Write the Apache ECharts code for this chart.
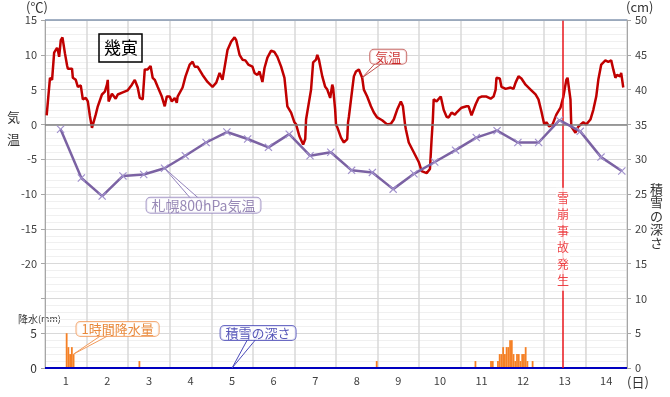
<!DOCTYPE html>
<html>
<head>
<meta charset="utf-8">
<script src="https://cdn.jsdelivr.net/npm/echarts@6/dist/echarts.min.js"></script>
<style>
html,body{margin:0;padding:0;background:#fff;}
#main{width:670px;height:397px;}
</style>
</head>
<body>
<div id="main"></div>
<script>
// 日付ラベル
var days = ['1','2','3','4','5','6','7','8','9','10','11','12','13','14'];

// 幾寅の気温（x は1日0時からの経過日数）
var tempDay = [0.04,0.12,0.17,0.22,0.29,0.31,0.34,0.38,0.42,0.48,0.53,0.55,0.65,0.67,0.74,0.79,0.86,0.91,0.98,
  1.03,1.08,1.13,1.15,1.22,1.27,1.37,1.44,1.49,1.51,1.53,1.61,1.63,1.70,1.75,1.87,1.99,
  2.09,2.16,2.23,2.28,2.35,2.40,2.47,2.54,2.59,2.64,2.71,2.81,2.83,2.88,2.93,
  3.00,3.05,3.12,3.17,3.19,3.31,3.38,3.48,3.55,3.60,3.67,3.79,3.91,
  4.03,4.12,4.20,4.27,4.39,4.48,4.56,4.60,4.68,4.75,4.82,4.89,4.99,
  5.04,5.11,5.16,5.23,5.28,5.35,5.44,5.52,5.59,5.68,5.76,5.83,5.92,
  6.00,6.04,6.12,6.21,6.26,6.28,6.40,6.45,6.52,6.55,6.59,6.67,6.74,6.79,6.86,6.91,6.93,6.98,
  7.00,7.03,7.12,7.19,7.27,7.29,7.31,7.39,7.43,7.48,7.55,7.63,7.67,7.75,7.84,7.91,7.99,
  8.11,8.23,8.32,8.39,8.47,8.56,8.61,8.66,8.68,8.75,8.87,8.99,
  9.06,9.18,9.26,9.30,9.33,9.35,9.42,9.52,9.59,9.66,9.71,9.78,9.86,9.90,
  10.02,10.14,10.19,10.26,10.36,10.43,10.50,10.62,10.72,10.74,10.79,10.84,10.86,10.94,10.98,
  11.08,11.20,11.27,11.32,11.39,11.46,11.56,11.68,11.80,11.87,11.94,
  12.01,12.06,12.13,12.21,12.30,12.40,12.47,12.54,12.57,12.64,12.66,12.76,12.83,12.95,
  13.02,13.12,13.19,13.26,13.31,13.38,13.48,13.55,13.62,13.67,13.72,13.76,13.84,13.86,13.91];
var tempVal = [1.3,6.7,6.4,10.3,11.0,10.7,9.7,12.1,12.5,10.2,8.5,8.0,8.0,6.7,6.4,5.4,5.6,3.6,3.8,
  3.3,1.2,-0.5,-0.3,1.4,2.6,4.3,4.7,5.7,6.4,3.3,4.4,4.3,3.7,4.3,4.6,4.9,
  5.7,6.4,5.3,3.8,3.6,7.9,7.9,8.4,6.7,6.4,5.4,4.0,4.1,2.6,4.0,
  4.0,3.3,3.8,3.1,4.0,5.3,6.9,8.6,9.0,8.3,8.3,7.1,6.1,
  5.4,6.0,7.4,6.4,10.7,11.9,12.5,12.1,10.0,9.3,9.2,8.6,8.3,
  7.4,7.1,7.6,6.1,8.1,9.6,10.6,10.4,9.7,8.3,6.7,2.6,1.7,
  0.3,0.0,-1.7,-2.9,-2.1,0.7,5.0,8.9,9.3,10.0,9.3,6.9,5.4,5.0,3.8,5.7,5.3,2.1,
  0.0,-0.4,-1.9,-2.6,-2.1,0.3,1.1,5.0,6.9,7.6,7.9,6.7,5.0,4.0,2.6,1.7,1.0,
  0.6,0.0,0.1,0.7,2.1,3.3,2.6,0.0,-0.7,-2.6,-4.0,-5.4,
  -6.7,-7.0,-6.4,-2.1,0.7,3.6,3.3,4.0,2.1,1.1,1.0,1.7,1.4,1.7,
  2.4,2.6,2.6,1.3,2.9,3.8,4.0,4.0,3.7,3.6,4.0,5.0,6.7,6.6,5.4,
  5.1,5.3,5.1,6.0,6.9,6.6,5.7,5.0,4.3,3.6,1.9,
  0.0,0.3,-0.3,0.0,1.4,2.4,4.0,6.4,6.7,3.6,-0.3,-1.2,-0.3,0.3,
  0.0,0.7,2.1,4.0,6.4,8.6,9.2,9.0,9.2,7.9,6.7,7.1,6.9,7.4,5.3];

// 札幌800hPa気温（9時・21時）
var upperDay = [0.375,0.875,1.375,1.875,2.375,2.875,3.375,3.875,4.375,4.875,5.375,5.875,6.375,6.875,
  7.375,7.875,8.375,8.875,9.375,9.875,10.375,10.875,11.375,11.875,12.375,12.875,13.375,13.875];
var upperVal = [-0.7,-7.7,-10.3,-7.4,-7.2,-6.3,-4.5,-2.6,-1.1,-2.1,-3.3,-1.4,-4.5,-4.0,
  -6.6,-6.9,-9.3,-7.1,-5.4,-3.7,-1.9,-0.9,-2.6,-2.6,0.6,-1.0,-4.7,-6.7];

// 1時間降水量（1日0時からの時間, mm）
var rainHour = [12,13,14,15,16,54,191,248,257,258,261,262,263,264,265,266,267,268,269,270,271,272,273,274,275,276,277,278,281];
var rainVal  = [5,3,2,3,2,1,1,1,1,1,1,2,2,3,2,3,3,4,4,2,1,2,2,1,2,2,3,1,1];

// 積雪の深さ（cm）
var snowDay = [0,1,2,3,4,5,6,7,8,9,10,11,12,13,14];
var snowVal = [0,0,0,0,0,0,0,0,0,0,0,0,0,0,0];

var eventDay = 12.46;   // 雪崩事故発生

var FONT = '"Noto Sans CJK JP", "Noto Sans", sans-serif';

function pairs(xs, ys){
  var out = [];
  for (var i = 0; i < xs.length; i++) out.push([xs[i], ys[i]]);
  return out;
}
var rainData = rainHour.map(function(h, i){ return [(h + 0.5) / 24, rainVal[i]]; });

var ti = tempDay.indexOf(7.63);
// 吹き出し: 文字, 軸, 指し先, ずらし量, 文字色, 枠色, 文字サイズ
var callouts = [
  {text: '気温', y: 0, pt: [tempDay[ti], tempVal[ti]], dx: 26, dy: -21, color: '#c00000', border: '#c0504d', fs: 13},
  {text: '札幌800hPa気温', y: 0, pt: [upperDay[5], upperVal[5]], dx: 39, dy: 37, color: '#7e6ca4', border: '#9383bb', fs: 14},
  {text: '1時間降水量', y: 1, pt: rainData[4], dx: 44, dy: -25, color: '#e46c0a', border: '#f19a5a', fs: 13},
  {text: '積雪の深さ', y: 2, pt: [4.5, 0], dx: 26, dy: -35, color: '#2b2ba6', border: '#4a4ab8', fs: 13}
];

function calloutSeries(c){
  return {
    type: 'scatter', xAxisIndex: 1, yAxisIndex: c.y, silent: true, z: 20,
    symbolSize: 1, itemStyle: {color: 'transparent'},
    data: [c.pt],
    label: {show: true, position: 'inside', formatter: c.text, color: c.color, fontFamily: FONT, fontSize: c.fs,
      backgroundColor: '#fff', borderColor: c.border, borderWidth: 1, borderRadius: 4, padding: [1, 5, 0, 5]},
    labelLayout: {dx: c.dx, dy: c.dy}
  };
}

var chart = echarts.init(document.getElementById('main'));

var series = [{
  name: '1時間降水量', type: 'bar', xAxisIndex: 1, yAxisIndex: 1,
  data: rainData, barWidth: 1.8, itemStyle: {color: '#f58025'}, z: 2
}, {
  name: '積雪の深さ', type: 'line', xAxisIndex: 1, yAxisIndex: 2,
  data: pairs(snowDay, snowVal), showSymbol: false,
  lineStyle: {color: '#0000c0', width: 2.2}, z: 3,
  markLine: {
    silent: true, symbol: 'none', label: {show: false},
    lineStyle: {color: '#e8161b', width: 1.5, type: 'solid'},
    data: [{xAxis: eventDay}]
  }
}, {
  name: '気温', type: 'line', xAxisIndex: 1, yAxisIndex: 0,
  data: pairs(tempDay, tempVal), showSymbol: false,
  lineStyle: {color: '#c00000', width: 2.5}, z: 4,
  markLine: {
    silent: true, symbol: 'none', label: {show: false},
    data: [
      {yAxis: 0, lineStyle: {color: '#7f7f7f', width: 1.5, type: 'solid'}},
      {yAxis: 15, lineStyle: {color: '#8497b0', width: 1.5, type: 'solid'}}
    ]
  }
}, {
  name: '札幌800hPa気温', type: 'line', xAxisIndex: 1, yAxisIndex: 0,
  data: pairs(upperDay, upperVal),
  symbol: 'path://M0,1L1,0L5,4L9,0L10,1L6,5L10,9L9,10L5,6L1,10L0,9L4,5Z',
  symbolSize: 8, itemStyle: {color: '#a090cc'},
  lineStyle: {color: '#7b62a3', width: 2.5}, z: 5
}, {
  type: 'scatter', xAxisIndex: 1, yAxisIndex: 0, silent: true, z: 20,
  symbolSize: 1, itemStyle: {color: 'transparent'},
  data: [[eventDay, -16.5]],
  label: {show: true, position: 'inside', formatter: '雪\n崩\n事\n故\n発\n生',
    color: '#e8161b', fontSize: 12, lineHeight: 16.5, fontFamily: FONT,
    backgroundColor: '#fff', padding: [2, 1]}
}];
var firstCallout = series.length;
callouts.forEach(function(c){ series.push(calloutSeries(c)); });

var texts = [
  {id: 'uC', type: 'text', left: 26, top: 1, style: {text: '(℃)', fill: '#333', font: '13px ' + FONT}},
  {id: 'uCm', type: 'text', left: 626, top: 1, style: {text: '(cm)', fill: '#333', font: '13px ' + FONT}},
  {id: 'uDay', type: 'text', left: 627, top: 376, style: {text: '(日)', fill: '#333', font: '13px ' + FONT}},
  {id: 'nTemp', type: 'text', left: 7, top: 106, style: {text: '気\n温', fill: '#333', font: '13px ' + FONT, lineHeight: 22}},
  {id: 'nSnow', type: 'text', left: 650, top: 182, style: {text: '積\n雪\nの\n深\nさ', fill: '#333', font: '13px ' + FONT, lineHeight: 13.5}},
  {id: 'nRain', type: 'text', left: 18, top: 314, style: {
    text: '{a|降水}{b|(mm)}',
    rich: {a: {fontSize: 10, fill: '#333', fontFamily: FONT}, b: {fontSize: 9, fill: '#333', fontFamily: FONT}}
  }}
];

chart.setOption({
  animation: false,
  backgroundColor: '#fff',
  textStyle: {fontFamily: FONT},
  title: {
    text: '幾寅', left: 99, top: 34, padding: [5, 4, 6, 5],
    borderColor: '#000', borderWidth: 1.5,
    textStyle: {fontSize: 17, fontWeight: 'normal', color: '#000', fontFamily: FONT}
  },
  grid: {left: 45, right: 43, top: 20, bottom: 29},
  xAxis: [{
    type: 'category', data: days, boundaryGap: true,
    axisLine: {show: false}, axisTick: {show: false},
    axisLabel: {interval: 0, color: '#404040', fontSize: 11, margin: 7, fontFamily: FONT},
    splitLine: {show: true, lineStyle: {color: '#d9d9d9', width: 1.5}}
  }, {
    type: 'value', min: 0, max: 14, show: false
  }],
  yAxis: [{
    type: 'value', min: -35, max: 15, interval: 5, position: 'left',
    axisLine: {show: true, lineStyle: {color: '#a6a6a6'}},
    axisTick: {show: true, length: 4, lineStyle: {color: '#a6a6a6'}},
    axisLabel: {color: '#404040', fontSize: 11, margin: 8, fontFamily: FONT,
      formatter: function(v){ return v >= -20 ? String(v) : ''; }},
    splitLine: {lineStyle: {color: '#d9d9d9', width: 1}},
    minorTick: {show: false, splitNumber: 5},
    minorSplitLine: {show: true, lineStyle: {color: '#f0f0f0', width: 1}}
  }, {
    type: 'value', min: 0, max: 50, interval: 5, position: 'left',
    axisLine: {show: false}, axisTick: {show: false}, splitLine: {show: false},
    axisLabel: {color: '#333', fontSize: 12, margin: 8, fontFamily: FONT,
      formatter: function(v){ return v <= 5 ? String(v) : ''; }}
  }, {
    type: 'value', min: 0, max: 50, interval: 5, position: 'right',
    axisLine: {show: true, lineStyle: {color: '#a6a6a6'}},
    axisTick: {show: true, length: 4, lineStyle: {color: '#a6a6a6'}},
    axisLabel: {color: '#404040', fontSize: 11, margin: 8, fontFamily: FONT},
    splitLine: {show: false}
  }],
  graphic: texts,
  series: series
});

// 吹き出しのしっぽ（指し先へ向かう三角形）
var tails = callouts.map(function(c, i){
  var p = chart.convertToPixel({seriesIndex: firstCallout + i}, c.pt);
  var cx = p[0] + c.dx, cy = p[1] + c.dy;
  return {
    id: 'tail' + i, type: 'polygon', z: 15, silent: true,
    shape: {points: [[cx - 7, cy], [p[0], p[1]], [cx + 3, cy]]},
    style: {fill: '#fff', stroke: c.border, lineWidth: 1}
  };
});
chart.setOption({graphic: texts.concat(tails)});
</script>
</body>
</html>
